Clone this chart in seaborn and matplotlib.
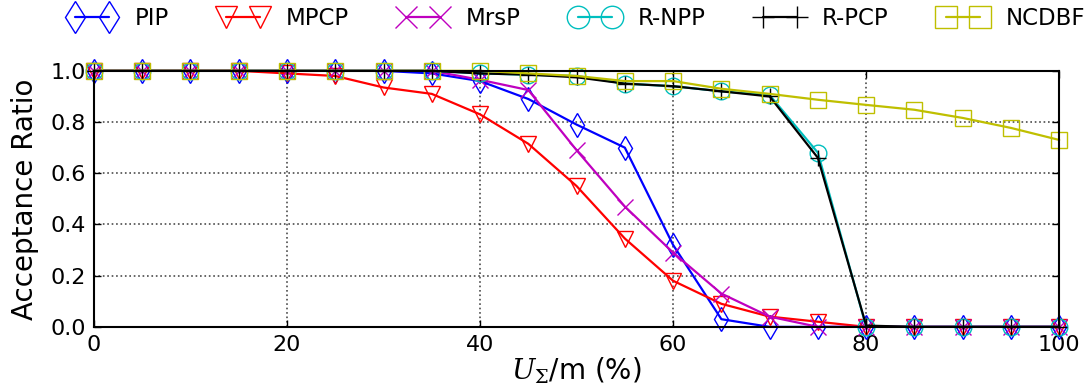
import matplotlib
matplotlib.use("Agg")
import matplotlib.pyplot as plt
import seaborn as sns
import pandas as pd
import numpy as np

x = list(range(0, 101, 5))
methods = ["PIP", "MPCP", "MrsP", "R-NPP", "R-PCP", "NCDBF"]
pip  = [1, 1, 1, 1, 1, 1, 1, 0.99, 0.96, 0.89, 0.79, 0.70, 0.32, 0.03, 0.0, 0.0, 0.0, 0.0, 0.0, 0.0, 0.0]
mpcp = [1, 1, 1, 1, 0.99, 0.98, 0.935, 0.91, 0.83, 0.715, 0.55, 0.345, 0.18, 0.09, 0.04, 0.02, 0.0, 0.0, 0.0, 0.0, 0.0]
mrsp = [1, 1, 1, 1, 1, 1, 1, 1, 0.965, 0.925, 0.69, 0.47, 0.29, 0.13, 0.04, 0.0, 0.0, 0.0, 0.0, 0.0, 0.0]
rnpp = [1, 1, 1, 1, 1, 1, 1, 1, 0.99, 0.985, 0.98, 0.95, 0.94, 0.92, 0.905, 0.68, 0.0, 0.0, 0.0, 0.0, 0.0]
rpcp = [1, 1, 1, 1, 1, 1, 1, 1, 0.99, 0.985, 0.975, 0.95, 0.94, 0.92, 0.90, 0.66, 0.005, 0.0, 0.0, 0.0, 0.0]
ncdbf = [1, 1, 1, 1, 1, 1, 1, 1, 1.0, 0.99, 0.98, 0.96, 0.96, 0.93, 0.91, 0.887, 0.867, 0.848, 0.816, 0.777, 0.73]
values = [pip, mpcp, mrsp, rnpp, rpcp, ncdbf]

colors = ["#0000ff", "#ff0000", "#bf00bf", "#00bfbf", "#000000", "#bfbf00"]
markers = ["d", "v", "x", "o", "+", "s"]

sns.set_style("ticks")
plt.rcParams['font.family'] = ['DejaVu Sans']
plt.rcParams['mathtext.fontset'] = 'dejavuserif'
for k in ["text.color", "axes.labelcolor", "xtick.color", "ytick.color", "axes.edgecolor"]:
    plt.rcParams[k] = "black"

fig = plt.figure(figsize=(10.92, 3.85), dpi=100)
ax = fig.add_axes([0.086, 0.151, 0.884, 0.665])

for name, vals, c, m in zip(methods, values, colors, markers):
    df = pd.DataFrame({"x": x, "y": vals})
    sns.lineplot(data=df, x="x", y="y", ax=ax, color=c, marker=m, markersize=12,
                 markerfacecolor="none", markeredgecolor=c, markeredgewidth=1.0,
                 linewidth=1.6, label=name, clip_on=False)

ax.set_xlim(0, 100)
ax.set_ylim(0, 1.0)
ax.set_xticks([0, 20, 40, 60, 80, 100])
ax.set_yticks([0, 0.2, 0.4, 0.6, 0.8, 1.0])
ax.set_yticklabels(["0.0", "0.2", "0.4", "0.6", "0.8", "1.0"])
ax.tick_params(direction="in", length=5, width=1, labelsize=16, top=True, right=True, pad=6)
ax.grid(True, linestyle=":", color="black", linewidth=1.2, alpha=0.7)
for s in ax.spines.values():
    s.set_visible(True)
    s.set_linewidth(1.5)
    s.set_color("black")
ax.set_xlabel(r"$U_{\Sigma}$/m (%)", fontsize=20, labelpad=0)
ax.set_ylabel("Acceptance Ratio", fontsize=20, labelpad=8)

ax.legend(loc="center", bbox_to_anchor=(0.5, 1.205), ncol=6, frameon=False,
          fontsize=16.5, numpoints=2, handlelength=2.1, columnspacing=2.2, handletextpad=0.8,
          markerscale=1.35, borderaxespad=0)

fig.savefig("out.png", dpi=100)
